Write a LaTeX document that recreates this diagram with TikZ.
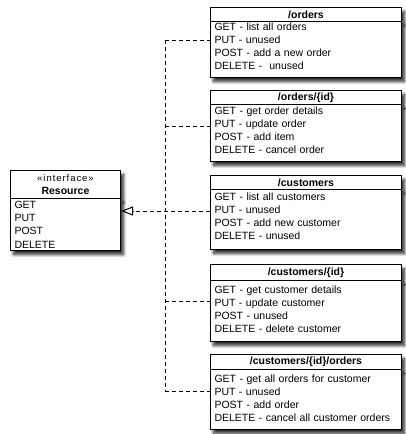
\documentclass[tikz,border=0pt]{standalone}
\usepackage{fontspec}
\setmainfont{Liberation Sans}
\usetikzlibrary{arrows.meta,shadows.blur}

\newcommand{\padrow}[1]{\vrule width 0pt height 0pt depth #1}

\begin{document}
\begin{tikzpicture}[x=1pt, y=-1pt,
    box/.style={draw=black, line width=1pt, fill=white, anchor=north west,
        blur shadow={shadow xshift=3pt, shadow yshift=-4pt, shadow opacity=85,
            shadow blur radius=3pt, shadow blur steps=8}},
    head/.style={box, inner sep=0pt, minimum width=191pt,
        font=\fontsize{10.5}{12}\selectfont\bfseries},
    body/.style={box, inner xsep=4pt, inner ysep=0pt, text width=183pt, align=left,
        font=\fontsize{10.5}{12.9}\selectfont},
    link/.style={black, line width=0.9pt, dash pattern=on 4pt off 3pt}]
    \useasboundingbox (0,0) rectangle (406,434);

    % the interface
    \node [box, inner sep=0pt, minimum width=110pt, minimum height=28pt, align=center,
        font=\fontsize{10.5}{13}\selectfont] at (10, 170) (RH)
        {{\fontsize{9.5}{11}\selectfont\addfontfeatures{LetterSpace=10}«interface»}\\\textbf{Resource}};
    \node [box, inner xsep=4pt, inner ysep=0pt, text width=102pt, minimum height=52pt,
        align=left, font=\fontsize{10.5}{13.3}\selectfont] at (10, 198) (RB)
        {GET\\PUT\\POST\\DELETE};

    % the resources
    \node [head, minimum height=14pt] at (210, 7) (OH) {/orders};
    \node [body, minimum height=56pt] at (210, 21) (OB)
        {GET - list all orders\\PUT - unused\\POST - add a new order\\DELETE -\ \ unused\padrow{6pt}};

    \node [head, minimum height=14pt] at (210, 90) (OIH) {/orders/\{id\}};
    \node [body, minimum height=57pt] at (210, 104) (OIB)
        {GET - get order details\\PUT - update order\\POST - add item\\DELETE - cancel order\padrow{6pt}};

    \node [head, minimum height=14pt] at (210, 175) (CH) {/customers};
    \node [body, minimum height=60pt] at (210, 189) (CB)
        {GET - list all customers\\PUT - unused\\POST - add new customer\\DELETE - unused\padrow{6pt}};

    \node [head, minimum height=16pt] at (210, 264) (CIH) {/customers/\{id\}};
    \node [body, minimum height=61pt] at (210, 280) (CIB)
        {GET - get customer details\\PUT - update customer\\POST - unused\\DELETE - delete customer\padrow{4pt}};

    \node [head, minimum height=15pt] at (210, 354) (COH) {/customers/\{id\}/orders};
    \node [body, minimum height=60pt] at (210, 369) (COB)
        {GET - get all orders for customer\\PUT - unused\\POST - add order\\DELETE - cancel all customer orders\padrow{3pt}};

    % dashed realisation lines
    \coordinate (OP) at (210, 40);
    \coordinate (OIP) at (210, 126);
    \coordinate (CP) at (210, 211);
    \coordinate (CIP) at (210, 301);
    \coordinate (COP) at (210, 391);
    \coordinate (J1) at (165, 40);
    \coordinate (J2) at (165, 126);
    \coordinate (J3) at (165, 211);
    \coordinate (J4) at (165, 301);
    \coordinate (J5) at (165, 391);
    \coordinate (RP) at (RB.east |- J3);

    \draw [link] (J1) -- (J5);
    \draw [link] (J1) -- (OP);
    \draw [link] (J2) -- (OIP);
    \draw [link] (J4) -- (CIP);
    \draw [link] (J5) -- (COP);
    \draw [link, -{Triangle[open, length=12pt, width=9pt, line width=1pt, sep=0pt]}] (CP) -- (RP);
\end{tikzpicture}
\end{document}
